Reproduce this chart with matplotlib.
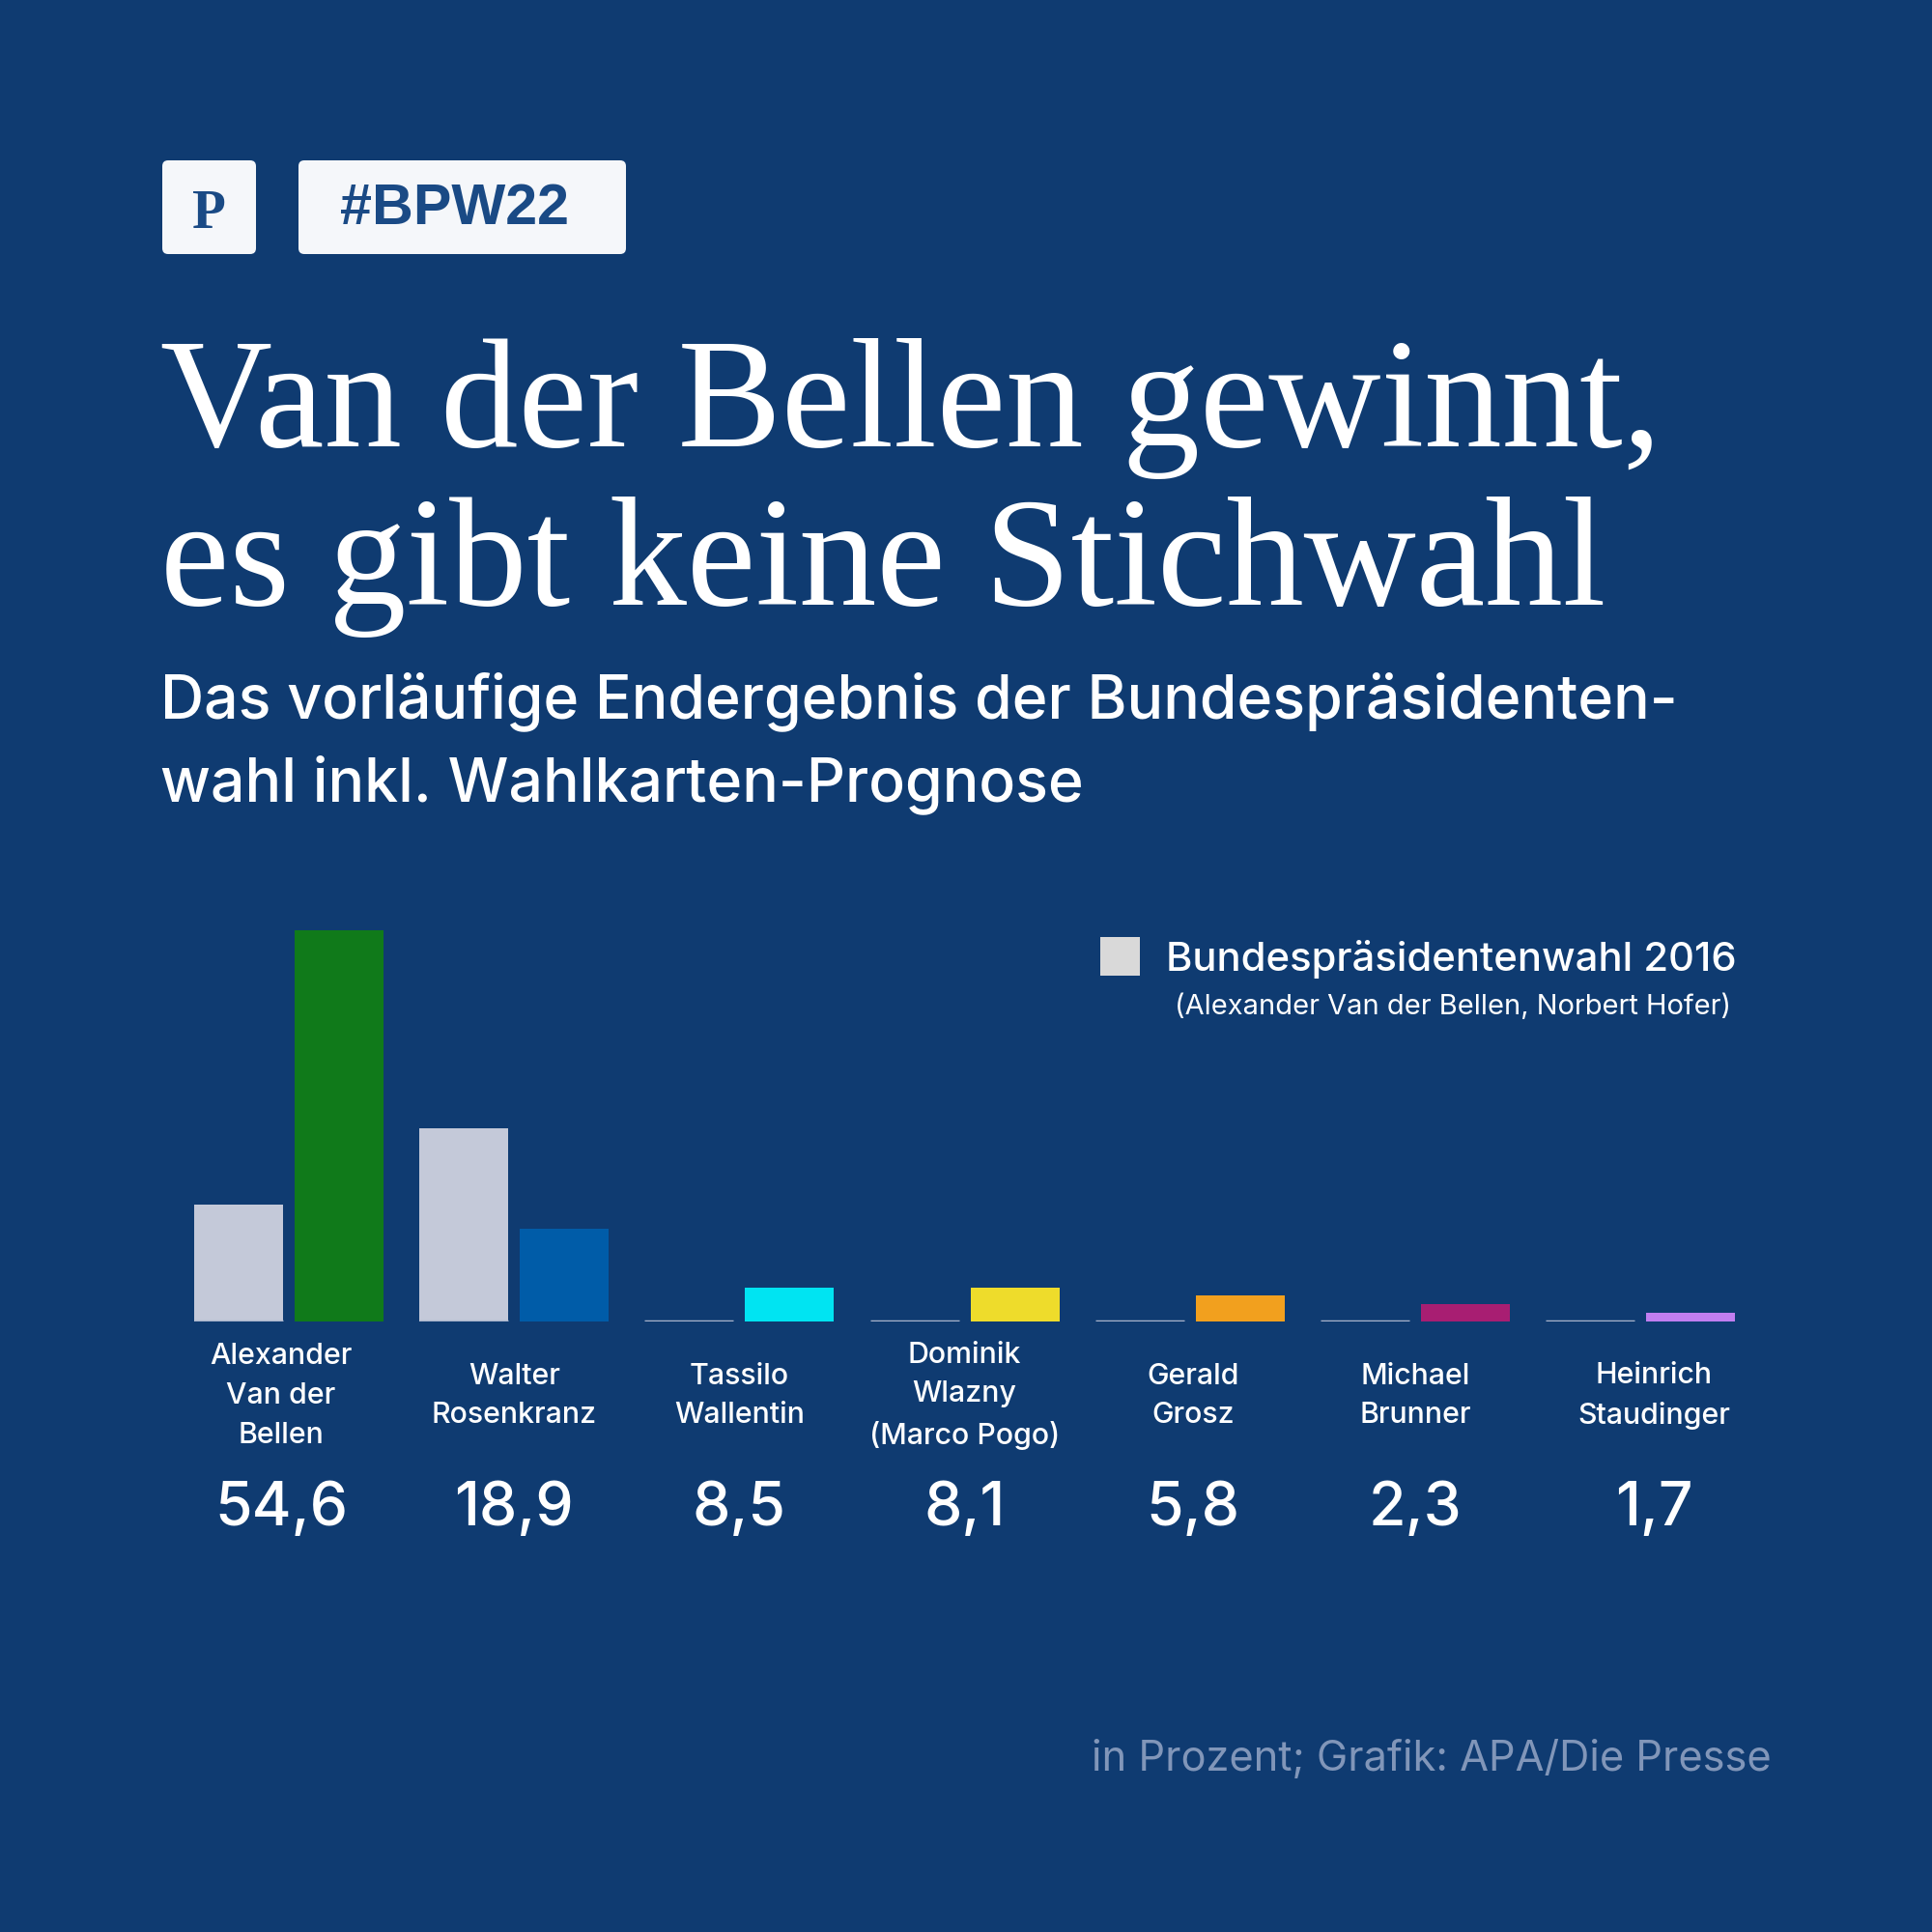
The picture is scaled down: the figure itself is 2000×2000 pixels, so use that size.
import matplotlib
matplotlib.use("Agg")
import matplotlib.pyplot as plt
from matplotlib.patches import FancyBboxPatch, Rectangle

candidates = ["Alexander\nVan der\nBellen", "Walter\nRosenkranz", "Tassilo\nWallentin",
              "Dominik\nWlazny\n(Marco Pogo)", "Gerald\nGrosz", "Michael\nBrunner",
              "Heinrich\nStaudinger"]
result_labels = ["54,6", "18,9", "8,5", "8,1", "5,8", "2,3", "1,7"]
# bar heights as drawn in the graphic (they do not follow the printed numbers)
bars_2022 = [71.1, 16.8, 6.1, 6.1, 4.7, 3.2, 1.6]
bars_2016 = [21.3, 35.1, 0, 0, 0, 0, 0]
colors_2022 = ["#107a1a", "#005ca8", "#00e4f2", "#eedc2b", "#f2a01e", "#a81e72", "#c17ef0"]

BG = "#0f3b71"
GREY = "#c4c9d9"
WHITE = "#ffffff"
SANS = ["Inter", "DejaVu Sans"]

W = 2000.0
fig = plt.figure(figsize=(20, 20), dpi=100, facecolor=BG)


def fx(x):
    return x / W


def fy(y):
    return 1 - y / W


def fit(t, width_px):
    r = fig.canvas.get_renderer()
    w = t.get_window_extent(r).width
    t.set_fontsize(t.get_fontsize() * width_px / w)
    return t


# header boxes
for x0, x1 in [(168, 265), (309, 648)]:
    fig.patches.append(FancyBboxPatch((fx(x0), fy(263)), fx(x1 - x0), (263 - 166) / W,
                                      boxstyle="round,pad=0,rounding_size=0.003",
                                      transform=fig.transFigure, facecolor="#f5f7fa",
                                      edgecolor="none"))
fig.text(fx(216), fy(236), "P", ha="center", va="baseline", fontsize=41,
         family="Liberation Serif", weight="bold", color="#1a4a85")
t = fig.text(fx(352), fy(232), "#BPW22", ha="left", va="baseline", fontsize=40,
             family="Liberation Sans", weight="bold", color="#1a4a85")
fit(t, 237)

# title
t1 = fig.text(fx(166), fy(462), "Van der Bellen gewinnt,", ha="left", va="baseline",
              fontsize=100, family="Liberation Serif", color=WHITE)
fit(t1, 1553)
fig.text(fx(166), fy(626), "es gibt keine Stichwahl", ha="left", va="baseline",
         fontsize=t1.get_fontsize(), family="Liberation Serif", color=WHITE)

# subtitle
s1 = fig.text(fx(166), fy(743), "Das vorläufige Endergebnis der Bundespräsidenten-",
              ha="left", va="baseline", fontsize=40, family=SANS, weight="medium", color=WHITE)
fit(s1, 1571)
fig.text(fx(166), fy(829), "wahl inkl. Wahlkarten-Prognose", ha="left", va="baseline",
         fontsize=s1.get_fontsize(), family=SANS, weight="medium", color=WHITE)

# legend
fig.patches.append(Rectangle((fx(1139), fy(1010)), fx(41), 40 / W, transform=fig.transFigure,
                             facecolor="#d9d9d9", edgecolor="none"))
l1 = fig.text(fx(1207), fy(1005), "Bundespräsidentenwahl 2016", ha="left", va="baseline",
              fontsize=30, family=SANS, weight="medium", color=WHITE)
fit(l1, 590)
l2 = fig.text(fx(1216), fy(1050), "(Alexander Van der Bellen, Norbert Hofer)", ha="left",
              va="baseline", fontsize=20, family=SANS, color=WHITE)
fit(l2, 576)

# bars
step = 233.2
x_first = 299.0
scale = 5.7  # px per unit of bar height
base_y = 1368.0
ax_top = 860.0
ax = fig.add_axes([0, fy(base_y), 1, (base_y - ax_top) / W])
ax.set_xlim(-x_first / step, (W - x_first) / step)
ax.set_ylim(0, (base_y - ax_top) / scale)
ax.axis("off")

xs = list(range(len(candidates)))
off = 52 / step
bw = 92 / step
ax.bar([x - off for x in xs], bars_2016, width=bw, color=GREY, linewidth=0)
ax.hlines([0] * len(xs), [x - off - bw / 2 for x in xs], [x - off + bw / 2 for x in xs],
          color="#aab4cc", linewidth=2.5)
ax.bar([x + off for x in xs], bars_2022, width=bw, color=colors_2022, linewidth=0)

# candidate names and results (labels sit slightly off the group centres in the original)
label_shift = [-8, 0, 0, 0, 3, 0, 14]
for x, name, lab, sh in zip(xs, candidates, result_labels, label_shift):
    px = x_first + step * x + sh
    fig.text(fx(px), fy(1445), name, ha="center", va="center", fontsize=21.8,
             family=SANS, weight="medium", color=WHITE, linespacing=1.58)
    fig.text(fx(px), fy(1579), lab, ha="center", va="baseline", fontsize=45,
             family=SANS, weight="medium", color=WHITE)

# footer
f = fig.text(fx(1834), fy(1833), "in Prozent; Grafik: APA/Die Presse", ha="right",
             va="baseline", fontsize=29, family=SANS, color="#8196b9")
fit(f, 703)

fig.savefig("out.png", dpi=100, facecolor=BG)
